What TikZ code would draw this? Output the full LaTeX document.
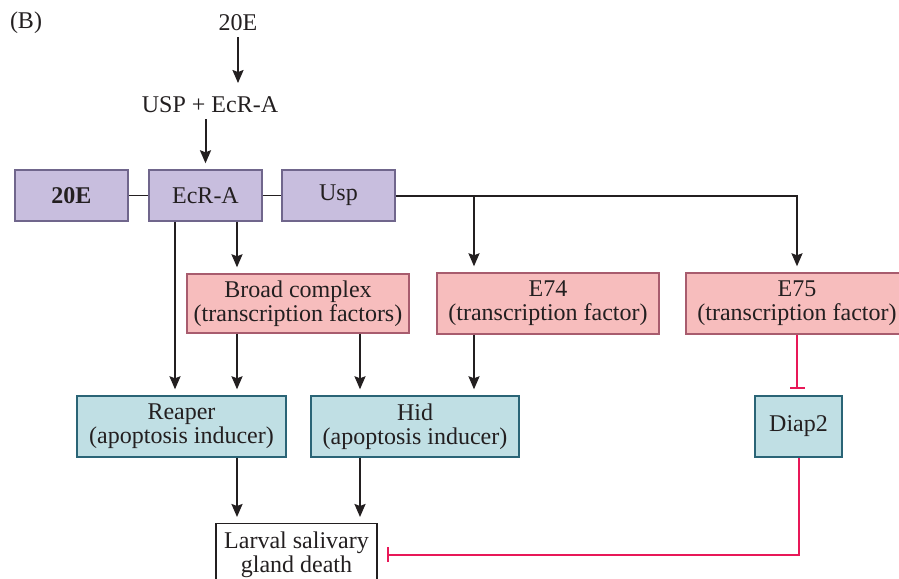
\documentclass[tikz,border=0pt]{standalone}
\usepackage{fontspec}
\setmainfont{Liberation Serif}
\usetikzlibrary{arrows.meta}

\definecolor{ink}{RGB}{35,31,32}
\definecolor{lilac}{RGB}{200,190,222}
\definecolor{lilacline}{RGB}{112,102,140}
\definecolor{rose}{RGB}{247,189,189}
\definecolor{roseline}{RGB}{168,92,110}
\definecolor{aqua}{RGB}{192,223,228}
\definecolor{aqualine}{RGB}{42,100,118}
\definecolor{crimson}{RGB}{232,24,88}

\tikzset{
  box/.style={draw, line width=.7pt, align=center, inner sep=1pt, minimum height=30.5pt},
  receptor/.style={box, draw=lilacline, fill=lilac, minimum width=56.5pt, minimum height=25.5pt},
  factor/.style={box, draw=roseline, fill=rose, minimum width=111pt},
  inducer/.style={box, draw=aqualine, fill=aqua},
  link/.style={line width=.7pt},
  act/.style={-{Stealth[length=6.5pt,width=5.5pt,inset=1pt]}, line width=1pt, shorten >=3pt},
  inh/.style={-{Bar[width=7.5pt]}, crimson, line width=1pt, shorten >=3pt},
}

\begin{document}
\begin{tikzpicture}[x=.5pt,y=-.5pt,color=ink,font=\fontsize{12}{12}\selectfont]
    \clip (0,0) rectangle (899,578);
    \node[anchor=base] (panel) at (26,28) {(B)};
    \node[anchor=base] (hormone) at (238,30) {20E};
    \node[anchor=base] (dimer) at (210,112) {USP + EcR-A};

    \node[receptor] (hbox) at (71.5,195.5) {\bfseries 20E};
    \node[receptor] (ecr) at (205.5,195.5) {EcR-A};
    \node[receptor] (usp) at (338.5,195.5) {Usp};

    \node[factor, minimum height=29.5pt] (broad) at (298,303.5) {Broad complex\\(transcription factors)};
    \node[factor] (e74) at (548,303.5) {E74\\(transcription factor)};
    \node[factor] (e75) at (797,303.5) {E75\\(transcription factor)};

    \node[inducer, minimum width=104.5pt] (reaper) at (181.5,426.5) {Reaper\\(apoptosis inducer)};
    \node[inducer, minimum width=104pt] (hid) at (415,426.5) {Hid\\(apoptosis inducer)};
    \node[inducer, minimum width=43.5pt] (diap) at (798.5,426.5) {Diap2};

    \node[draw, fill=white, line width=.7pt, align=center, anchor=north, minimum width=80.5pt,
          inner ysep=4pt] (death) at (296.5,523) {Larval salivary\\gland death};

    \draw[act] (hormone.south) -- (hormone |- dimer.north);
    \draw[act] (dimer.south -| ecr) -- (ecr.north);
    \draw[link] (hbox) -- (ecr);
    \draw[link] (ecr) -- (usp);

    \draw[act] (usp.east) -| (e75.north);
    \draw[act] (474,0 |- usp.east) -- (474,0 |- e74.north);
    \draw[act] (175,0 |- ecr.south) -- (175,0 |- reaper.north);
    \draw[act] (237,0 |- ecr.south) -- (237,0 |- broad.north);
    \draw[act] (237,0 |- broad.south) -- (237,0 |- reaper.north);
    \draw[act] (360,0 |- broad.south) -- (360,0 |- hid.north);
    \draw[act] (474,0 |- e74.south) -- (474,0 |- hid.north);
    \draw[act] (237,0 |- reaper.south) -- (237,0 |- death.north);
    \draw[act] (360,0 |- hid.south) -- (360,0 |- death.north);

    \draw[inh] (e75.south) -- (e75.south |- diap.north);
    \draw[inh, shorten >=4.5pt] (diap.south) |- (death.east);
\end{tikzpicture}
\end{document}
